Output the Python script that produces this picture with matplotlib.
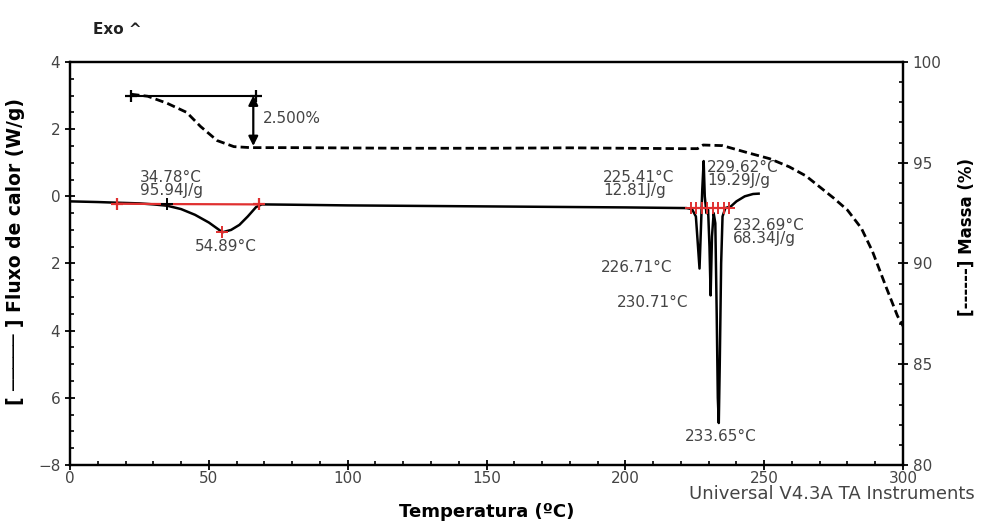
import numpy as np
import matplotlib
matplotlib.use("Agg")
import matplotlib.pyplot as plt

plt.rcParams['font.family'] = ['DejaVu Sans']

# DSC curve (heat flow, W/g)
dsc_temp = [0, 10, 17, 25, 30, 35, 40, 45, 50, 54.89, 58, 61, 64, 67, 69, 80, 100,
            150, 200, 222, 224, 225.4, 226.0, 226.71, 227.2, 227.7, 228.2, 228.6,
            229.2, 229.8, 230.3, 230.71, 231.2, 231.8, 232.4, 232.9, 233.3, 233.65,
            234.0, 234.5, 235.0, 236.0, 238, 240, 243, 246, 248]
dsc_flow = [-0.15, -0.17, -0.19, -0.21, -0.24, -0.28, -0.38, -0.55, -0.78, -1.07,
            -1.0, -0.85, -0.6, -0.32, -0.24, -0.25, -0.27, -0.30, -0.33, -0.35,
            -0.38, -0.6, -1.3, -2.15, -1.0, 0.2, 1.05, 0.0, -0.5, -0.4, -1.5, -2.95,
            -1.2, -0.5, -0.8, -3.5, -6.0, -6.75, -5.0, -2.0, -0.6, -0.35, -0.3,
            -0.15, 0.0, 0.07, 0.08]

# TGA curve (mass, %)
tga_temp = [22, 28, 35, 42, 47, 53, 59, 65, 80, 120, 150, 180, 200, 220, 226, 228,
            235, 244, 252, 259, 265, 270, 275, 280, 285, 289, 294, 298, 300]
tga_mass = [98.4, 98.3, 97.95, 97.5, 96.8, 96.1, 95.8, 95.75, 95.75, 95.72, 95.72,
            95.74, 95.72, 95.7, 95.7, 95.88, 95.85, 95.5, 95.2, 94.8, 94.35, 93.8,
            93.25, 92.65, 91.75, 90.6, 88.8, 87.4, 86.9]

# integration baselines (red)
base1_temp = [17, 35, 68]
base1_flow = [-0.22, -0.23, -0.24]
base2_temp = [223.5, 225.5, 227.5, 229.5, 231.5, 233.5, 235.5, 237.5]
base2_flow = [-0.35] * 8

# peak labels
labels = [
    ("34.78°C\n95.94J/g", 25.2, 0.37),
    ("54.89°C", 45, -1.48),
    ("225.41°C\n12.81J/g", 192, 0.37),
    ("229.62°C\n19.29J/g", 229.4, 0.66),
    ("232.69°C\n68.34J/g", 238.8, -1.06),
    ("226.71°C", 191.2, -2.13),
    ("230.71°C", 197, -3.15),
    ("233.65°C", 221.5, -7.14),
]

left_ticks = [4, 2, 0, -2, -4, -6, -8]
left_ticklabels = ["4", "2", "0", "2", "4", "6", "\u22128"]

fig = plt.figure(figsize=(9.81, 5.25), dpi=100)
ax = fig.add_axes([0.0714, 0.1143, 0.8491, 0.7676])
ax2 = ax.twinx()

ax.plot(dsc_temp, dsc_flow, color="black", lw=1.8, zorder=3)
ax.plot(base1_temp, base1_flow, color="#e03030", lw=1.6, zorder=4)
ax.plot([base1_temp[0], base1_temp[-1]], [base1_flow[0], base1_flow[-1]], "+",
        color="#e03030", ms=9, mew=1.6, zorder=5)
ax.plot([base1_temp[1]], [base1_flow[1]], "+", color="black", ms=8, mew=1.4, zorder=5)
ax.plot([54.89], [-1.07], "+", color="#e03030", ms=8, mew=1.4, zorder=5)
ax.plot(base2_temp, base2_flow, color="#e03030", lw=1.6, zorder=2)
ax.plot(base2_temp, base2_flow, "+", color="#e03030", ms=8, mew=1.4, zorder=5)

ax2.plot(tga_temp, tga_mass, color="black", lw=2, ls=(0, (3, 1.5)))

# mass loss marker
ax.plot([22, 67], [3.0, 3.0], color="black", lw=1.5)
ax.plot([22, 67], [3.0, 3.0], "+", color="black", ms=9, mew=1.6)
ax.annotate("", xy=(66, 1.5), xytext=(66, 3.0),
            arrowprops=dict(arrowstyle="<|-|>", color="black", lw=1.6,
                            mutation_scale=14, shrinkA=0, shrinkB=0))
ax.text(69.5, 2.33, "2.500%", fontsize=11, color="#444444", va="center")

for txt, x, y in labels:
    ax.text(x, y, txt, fontsize=11, color="#444444", va="center", linespacing=0.85)

ax.set_xlim(0, 300)
ax.set_ylim(-8, 4)
ax2.set_ylim(80, 100)

ax.set_xticks([0, 50, 100, 150, 200, 250, 300])
ax.set_xticks(np.arange(0, 301, 10), minor=True)
ax.set_yticks(left_ticks)
ax.set_yticklabels(left_ticklabels)
ax.set_yticks(np.arange(-8, 4.01, 0.5), minor=True)
ax2.set_yticks([80, 85, 90, 95, 100])
ax2.set_yticks(np.arange(80, 101, 1), minor=True)

for a in (ax, ax2):
    a.tick_params(which="major", direction="inout", length=7, width=1.3,
                  labelsize=11, labelcolor="#444444")
    a.tick_params(which="minor", direction="in", length=3, width=1.2)
    for s in a.spines.values():
        s.set_linewidth(1.6)
ax.tick_params(axis="x", which="major", pad=1)

ax.set_xlabel("Temperatura (ºC)", fontsize=13, fontweight="bold")
ax.xaxis.set_label_coords(0.5, -0.094)
ax.set_ylabel("[ \u2500\u2500\u2500\u2500\u2500 ] Fluxo de calor (W/g)",
              fontsize=13.5, fontweight="bold")
ax.yaxis.set_label_coords(-0.054, 0.53)
ax2.set_ylabel("[------] Massa (%)", fontsize=12, fontweight="bold")
ax2.yaxis.set_label_coords(1.066, 0.566)

fig.text(0.095, 0.935, "Exo ^", fontsize=11, fontweight="bold", color="#222222")
fig.text(0.994, 0.059, "Universal V4.3A TA Instruments", fontsize=13,
         color="#444444", ha="right", va="center")

fig.savefig("out.png", dpi=100)
